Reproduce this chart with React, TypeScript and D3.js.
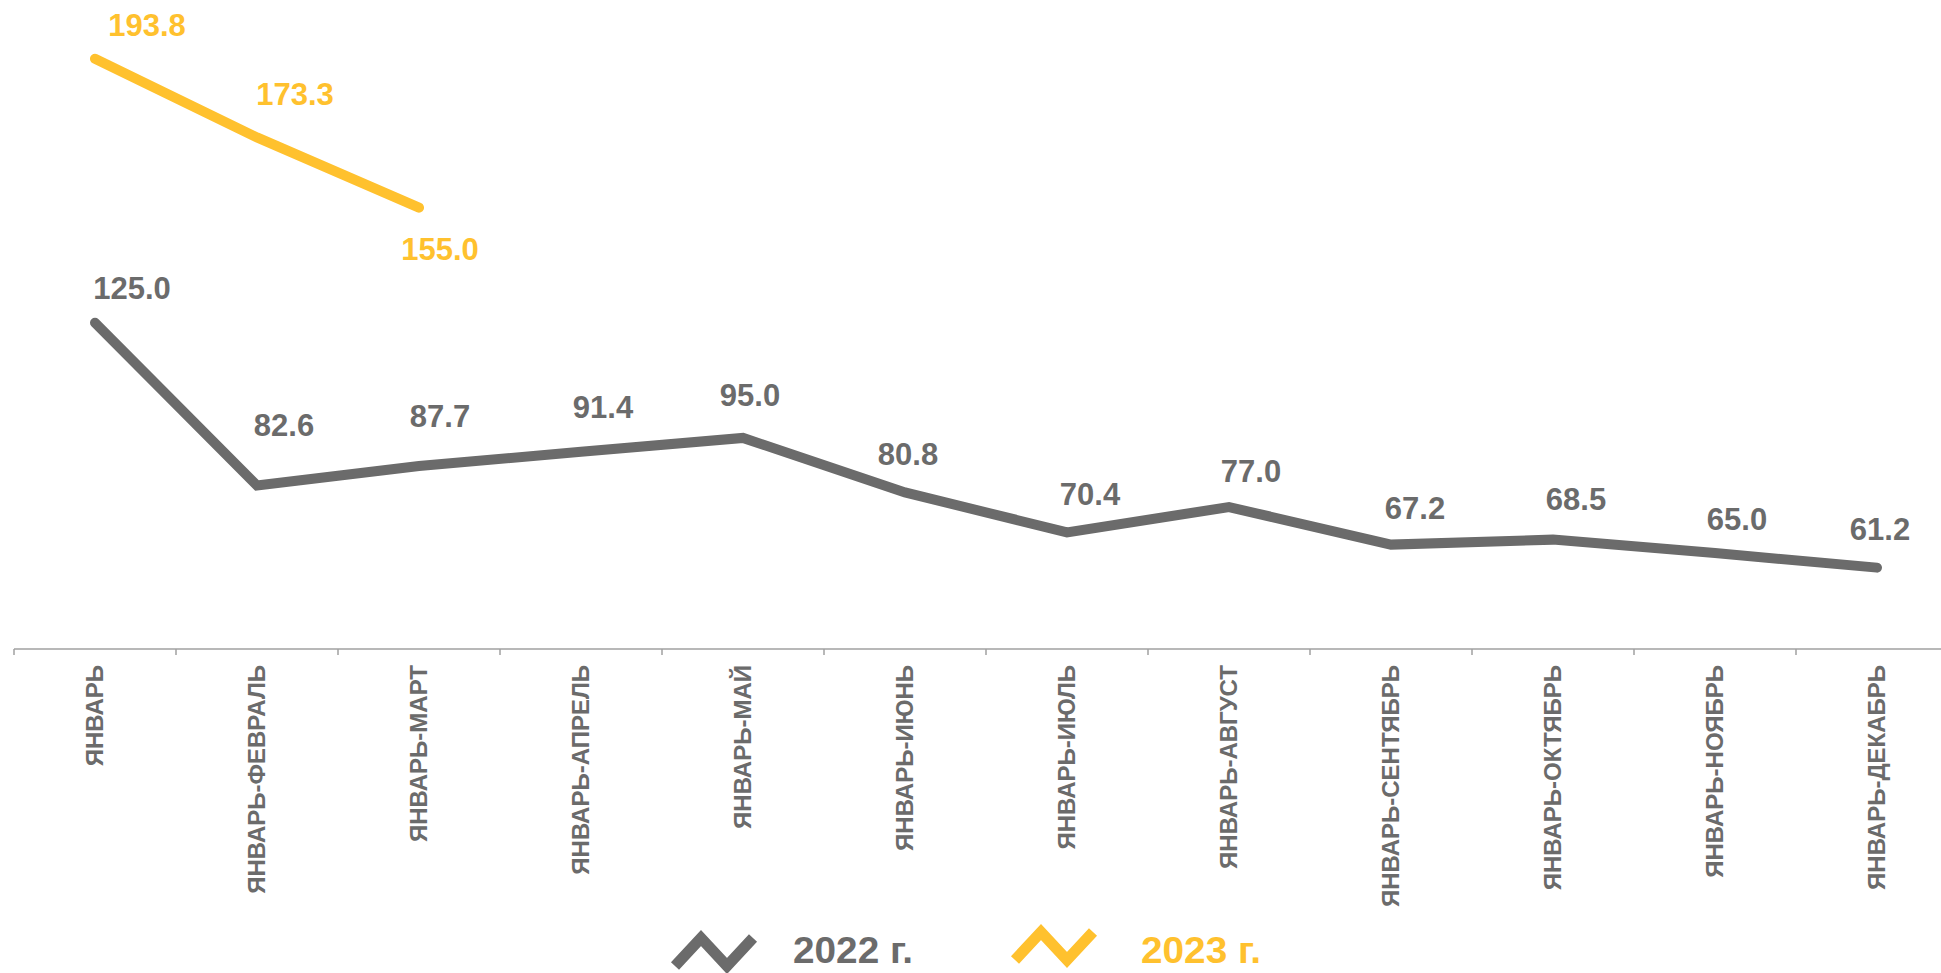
import { useEffect, useRef } from "react"
import * as d3 from "d3"

const categories = [
  "ЯНВАРЬ",
  "ЯНВАРЬ-ФЕВРАЛЬ",
  "ЯНВАРЬ-МАРТ",
  "ЯНВАРЬ-АПРЕЛЬ",
  "ЯНВАРЬ-МАЙ",
  "ЯНВАРЬ-ИЮНЬ",
  "ЯНВАРЬ-ИЮЛЬ",
  "ЯНВАРЬ-АВГУСТ",
  "ЯНВАРЬ-СЕНТЯБРЬ",
  "ЯНВАРЬ-ОКТЯБРЬ",
  "ЯНВАРЬ-НОЯБРЬ",
  "ЯНВАРЬ-ДЕКАБРЬ",
]
const values2022 = [125.0, 82.6, 87.7, 91.4, 95.0, 80.8, 70.4, 77.0, 67.2, 68.5, 65.0, 61.2]
const values2023 = [193.8, 173.3, 155.0]
const seriesNames = ["2022 г.", "2023 г."]

// hand-placed data label nudges (label centre relative to point)
const nudge2022 = [
  [37, -35], [27, -60], [21, -50], [22, -45], [7, -43], [3, -38],
  [23, -38], [22, -36], [24, -36], [23, -40], [22, -34], [3, -38],
]
const nudge2023 = [[52, -34], [38, -43], [21, 41]]

const GRAY = "#6b6b6b"
const YELLOW = "#ffc12e"
const FONT = "'Liberation Sans', Arial, sans-serif"

const W = 1941
const H = 973

const App = () => {
  const svgRef = useRef<SVGSVGElement | null>(null)

  useEffect(() => {
    if (!svgRef.current) return
    const svg = d3.select(svgRef.current)
    svg.selectAll("*").remove()

    const x = d3.scaleBand<string>().domain(categories).range([14, 14 + 162 * 12])
    const y = d3.scaleLinear().domain([40, 200]).range([649, 35])
    const cx = (i: number) => (x(categories[i]) as number) + x.bandwidth() / 2

    // axis
    const axis = svg.append("g").attr("transform", `translate(0,${y(40)})`)
    axis
      .append("line")
      .attr("x1", 14)
      .attr("x2", 14 + 162 * 12)
      .attr("stroke", "#a0a0a0")
      .attr("stroke-width", 1.5)
    axis
      .selectAll(".tick")
      .data(d3.range(categories.length + 1))
      .join("line")
      .attr("x1", (i) => 14 + i * x.step())
      .attr("x2", (i) => 14 + i * x.step())
      .attr("y1", 0)
      .attr("y2", 6)
      .attr("stroke", "#a0a0a0")
      .attr("stroke-width", 1.5)
    axis
      .selectAll(".cat")
      .data(categories)
      .join("text")
      .attr("transform", (d, i) => `translate(${cx(i)},16) rotate(-90)`)
      .attr("text-anchor", "end")
      .attr("dy", "0.35em")
      .attr("font-family", FONT)
      .attr("font-weight", "bold")
      .attr("font-size", 24)
      .attr("fill", GRAY)
      .text((d) => d)

    const line = d3
      .line<number>()
      .x((d, i) => cx(i))
      .y((d) => y(d))

    const series = [
      { values: values2022, color: GRAY, nudge: nudge2022 },
      { values: values2023, color: YELLOW, nudge: nudge2023 },
    ]

    series.forEach((s) => {
      svg
        .append("path")
        .datum(s.values)
        .attr("d", line)
        .attr("fill", "none")
        .attr("stroke", s.color)
        .attr("stroke-width", 10)
        .attr("stroke-linecap", "round")
        .attr("stroke-linejoin", "miter")

      svg
        .append("g")
        .selectAll("text")
        .data(s.values)
        .join("text")
        .attr("x", (d, i) => cx(i) + s.nudge[i][0])
        .attr("y", (d, i) => y(d) + s.nudge[i][1])
        .attr("dy", "0.35em")
        .attr("text-anchor", "middle")
        .attr("font-family", FONT)
        .attr("font-weight", "bold")
        .attr("font-size", 31)
        .attr("fill", s.color)
        .text((d) => d.toFixed(1))
    })

    // legend
    const legend = [
      { name: seriesNames[0], color: GRAY, ix: 675, iy: 934, tx: 793 },
      { name: seriesNames[1], color: YELLOW, ix: 1015, iy: 928, tx: 1141 },
    ]
    legend.forEach((l) => {
      svg
        .append("path")
        .attr("d", `M${l.ix},${l.iy + 32} l26,-28 l26,28 l26,-28`)
        .attr("fill", "none")
        .attr("stroke", l.color)
        .attr("stroke-width", 11)
        .attr("stroke-linejoin", "miter")
      svg
        .append("text")
        .attr("x", l.tx)
        .attr("y", 963)
        .attr("font-family", "'Liberation Sans Narrow', 'Liberation Sans', Arial, sans-serif")
        .attr("font-weight", "bold")
        .attr("font-size", 37)
        .attr("textLength", 120)
        .attr("lengthAdjust", "spacingAndGlyphs")
        .attr("fill", l.color)
        .text(l.name)
    })
  }, [])

  return (
    <svg
      ref={svgRef}
      width={W}
      height={H}
      style={{ position: "absolute", left: 0, top: 0, display: "block", background: "#fff" }}
    />
  )
}

export default App
